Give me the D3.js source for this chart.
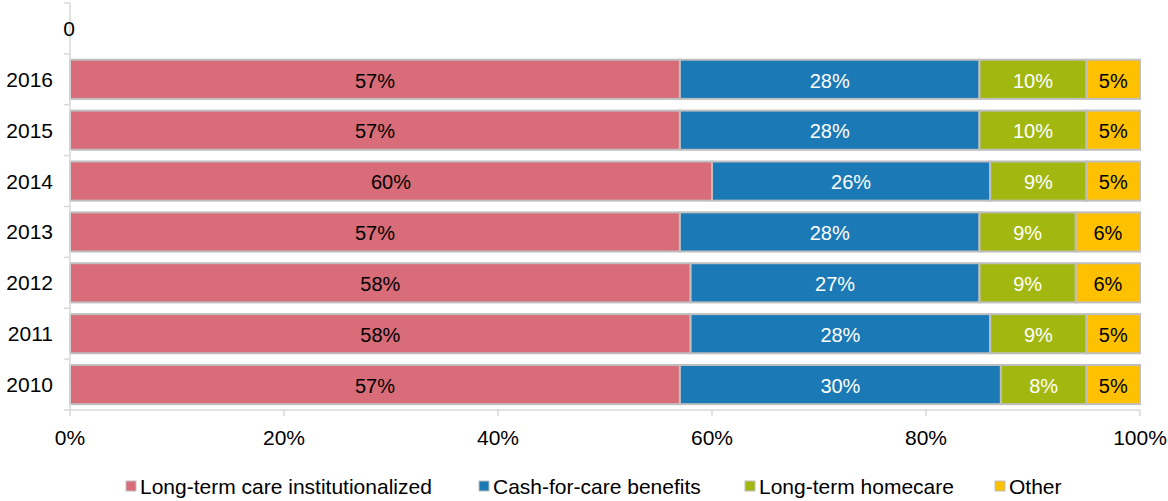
<!DOCTYPE html>
<html>
<head>
<meta charset="utf-8">
<script src="https://cdn.jsdelivr.net/npm/d3@7"></script>
<style>
  body { margin: 0; background: #fff; }
  svg { font-family: "Liberation Sans", Arial, sans-serif; }
</style>
</head>
<body>
<div id="chart"></div>
<script>
// categories, top to bottom (the first slot is an empty "0" row)
var years = ["0", "2016", "2015", "2014", "2013", "2012", "2011", "2010"];
var seriesNames = ["Long-term care institutionalized", "Cash-for-care benefits", "Long-term homecare", "Other"];
var institutional = [null, 57, 57, 60, 57, 58, 58, 57];
var cashForCare   = [null, 28, 28, 26, 28, 27, 28, 30];
var homecare      = [null, 10, 10, 9, 9, 9, 9, 8];
var other         = [null, 5, 5, 5, 6, 6, 5, 5];
var xTicks = [0, 20, 40, 60, 80, 100];

var colors = ["#D86C78", "#1B7AB6", "#A2B810", "#FFC000"];
var labelColors = ["#000", "#fff", "#fff", "#000"];
var fontSize = "21px";

var W = 1168, H = 501;
var margin = {top: 3, right: 28, bottom: 91, left: 70};

var svg = d3.select("#chart").append("svg")
  .attr("width", W)
  .attr("height", H);

var x = d3.scaleLinear().domain([0, 100]).range([margin.left, W - margin.right]);
var y = d3.scaleBand().domain(years).range([margin.top, H - margin.bottom]).paddingInner(0.23).paddingOuter(0.115);

// stack the rows
var rows = years.map(function (yr, i) {
  return {year: yr, vals: [institutional[i], cashForCare[i], homecare[i], other[i]]};
}).filter(function (d) { return d.vals[0] !== null; });

var segs = [];
rows.forEach(function (r) {
  var acc = 0;
  r.vals.forEach(function (v, k) {
    segs.push({year: r.year, k: k, x0: acc, x1: acc + v, v: v});
    acc += v;
  });
});

// bars
svg.append("g").selectAll("rect")
  .data(segs)
  .enter().append("rect")
  .attr("x", function (d) { return x(d.x0); })
  .attr("width", function (d) { return x(d.x1) - x(d.x0); })
  .attr("y", function (d) { return y(d.year); })
  .attr("height", y.bandwidth())
  .style("fill", function (d) { return colors[d.k]; })
  .style("stroke", "#BFBFBF")
  .style("stroke-width", 2);

// value labels
svg.append("g").selectAll("text")
  .data(segs)
  .enter().append("text")
  .attr("x", function (d) { return (x(d.x0) + x(d.x1)) / 2; })
  .attr("y", function (d) { return y(d.year) + y.bandwidth() / 2 + 1; })
  .attr("dy", "0.36em")
  .attr("text-anchor", "middle")
  .style("font-size", "20px")
  .style("fill", function (d) { return labelColors[d.k]; })
  .text(function (d) { return d.v + "%"; });

// y axis with ticks at band boundaries
var step = y.step();
var yAxis = svg.append("g");
yAxis.append("line")
  .attr("x1", margin.left).attr("x2", margin.left)
  .attr("y1", margin.top).attr("y2", H - margin.bottom)
  .style("stroke", "#D9D9D9").style("stroke-width", 1.5);
yAxis.selectAll(".tk")
  .data(d3.range(years.length + 1))
  .enter().append("line")
  .attr("x1", margin.left - 6).attr("x2", margin.left)
  .attr("y1", function (i) { return margin.top + i * step; })
  .attr("y2", function (i) { return margin.top + i * step; })
  .style("stroke", "#D9D9D9").style("stroke-width", 1.5);
yAxis.selectAll("text")
  .data(years)
  .enter().append("text")
  .attr("x", function (d) { return d === "0" ? margin.left - 1 : 53; })
  .attr("y", function (d) { return y(d) + y.bandwidth() / 2; })
  .attr("dy", "0.36em")
  .attr("text-anchor", function (d) { return d === "0" ? "middle" : "end"; })
  .style("font-size", fontSize)
  .style("fill", "#000")
  .text(function (d) { return d; });

// x axis
var xAxisY = H - margin.bottom;
var xAxis = svg.append("g");
xAxis.append("line")
  .attr("x1", margin.left).attr("x2", x(100))
  .attr("y1", xAxisY).attr("y2", xAxisY)
  .style("stroke", "#D9D9D9").style("stroke-width", 1.5);
xAxis.selectAll(".tk")
  .data(xTicks)
  .enter().append("line")
  .attr("x1", function (d) { return x(d); }).attr("x2", function (d) { return x(d); })
  .attr("y1", xAxisY).attr("y2", xAxisY + 6)
  .style("stroke", "#D9D9D9").style("stroke-width", 1.5);
xAxis.selectAll("text")
  .data(xTicks)
  .enter().append("text")
  .attr("x", function (d) { return x(d); })
  .attr("y", xAxisY + 35)
  .attr("text-anchor", "middle")
  .style("font-size", fontSize)
  .style("fill", "#000")
  .text(function (d) { return d + "%"; });

// legend
var legendX = [126, 479, 745, 995];
var legend = svg.append("g").selectAll("g")
  .data(seriesNames)
  .enter().append("g")
  .attr("transform", function (d, i) { return "translate(" + legendX[i] + "," + 486 + ")"; });
legend.append("rect")
  .attr("x", 0).attr("y", -5)
  .attr("width", 10).attr("height", 10)
  .style("fill", function (d, i) { return colors[i]; })
  .style("stroke", "#BFBFBF").style("stroke-width", 1);
legend.append("text")
  .attr("x", 14)
  .attr("dy", "0.36em")
  .style("font-size", fontSize)
  .style("fill", "#000")
  .text(function (d) { return d; });
</script>
</body>
</html>
